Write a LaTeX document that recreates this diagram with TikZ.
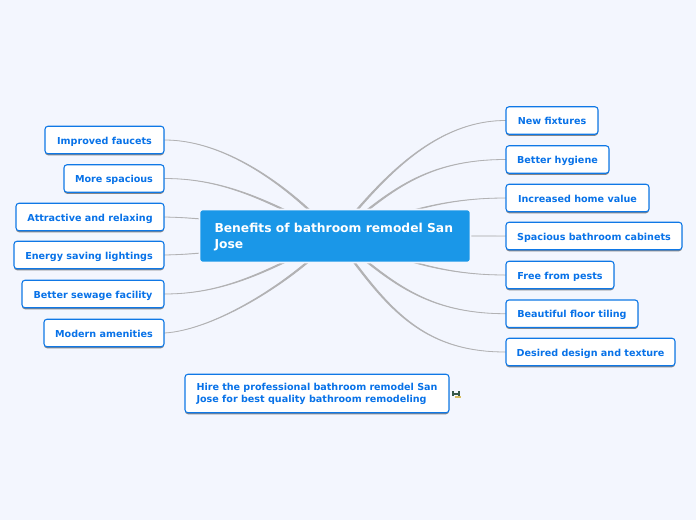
\documentclass[tikz,border=0pt]{standalone}
\usepackage{fontspec}
\setmainfont{DejaVu Sans}
\usetikzlibrary{shadows,backgrounds,calc}
\definecolor{pagebg}{HTML}{F3F6FE}
\definecolor{leafline}{HTML}{0F78E6}
\definecolor{leaftext}{HTML}{0872E8}
\definecolor{mainfill}{HTML}{1A97E8}
\definecolor{connc}{HTML}{B2B2B4}
\definecolor{icondark}{HTML}{35584A}
\definecolor{iconlight}{HTML}{D8BE62}
\tikzset{
  box/.style={draw=leafline,fill=white,line width=1.1pt,rounded corners=3pt,inner sep=0pt,
    text=leaftext,font=\fontsize{9.6}{12.5}\selectfont\bfseries,
    drop shadow={shadow xshift=0pt,shadow yshift=-1.5pt,fill=black!70,opacity=.65}},
  leaf/.style={box,minimum height=27.5pt,text height=10pt,text depth=2pt},
  hub/.style={draw=pagebg,fill=mainfill,line width=1.6pt,rounded corners=3pt,inner sep=0pt,
    text=white,font=\fontsize{12.3}{15.5}\selectfont\bfseries,
    minimum width=271pt,minimum height=53pt},
  conn/.style={draw=connc,fill=connc,line width=.8pt,line join=round}
}
% tapered connector: node anchor, first control, second control, half width at the hub
\newcommand{\taper}[4]{%
  \path[conn] (#1) .. controls +(#2) and +(#3) .. ($(hub.center)+(#4)$)
    -- ($(hub.center)-(#4)$) .. controls +(#3) and +(#2) .. (#1) -- cycle;}
\begin{document}
\begin{tikzpicture}[x=1pt,y=-1pt]
\useasboundingbox (0,0) rectangle (696,520);
% hub
\node[hub] (hub) at (335,236) {\parbox[c][53pt][c]{241pt}{\raggedright\vspace*{2pt}Benefits of bathroom remodel San\\Jose}};
% left
\node[leaf,minimum width=119pt] (l1) at (104.5,140) {Improved faucets};
\node[leaf,minimum width=100pt] (l2) at (114,178.5) {More spacious};
\node[leaf,minimum width=148pt] (l3) at (90,217) {Attractive and relaxing};
\node[leaf,minimum width=150pt] (l4) at (89,255) {Energy saving lightings};
\node[leaf,minimum width=142pt] (l5) at (93,294) {Better sewage facility};
\node[leaf,minimum width=120pt] (l6) at (104,333) {Modern amenities};
% right
\node[leaf,minimum width=92pt] (r1) at (552,120.5) {New fixtures};
\node[leaf,minimum width=103pt] (r2) at (557.5,159.5) {Better hygiene};
\node[leaf,minimum width=143pt] (r3) at (577.5,198) {Increased home value};
\node[leaf,minimum width=176pt] (r4) at (594,236) {Spacious bathroom cabinets};
\node[leaf,minimum width=108pt] (r5) at (560,275) {Free from pests};
\node[leaf,minimum width=132pt] (r6) at (572,313.7) {Beautiful floor tiling};
\node[leaf,minimum width=169pt] (r7) at (590.5,352) {Desired design and texture};
% note
\node[box,minimum width=264pt,minimum height=38.5pt] (note) at (317,393.5)
  {\parbox{241pt}{\raggedright\vspace*{1pt}Hire the professional bathroom remodel San\\Jose for best quality bathroom remodeling}};
% icon
\fill[icondark] (452,390.5) rectangle (453.8,396);
\fill[icondark] (457.7,390.5) rectangle (459.5,396);
\fill[icondark] (452,393) rectangle (459.5,394.8);
\fill[iconlight] (455,395.5) rectangle (461,397.5);
\begin{scope}[on background layer]
\fill[pagebg] (0,0) rectangle (696,520);
\taper{l1.east}{65,0}{-40,-44}{.55,-.55}
\taper{l2.east}{60,0}{-66,-35}{.35,-.7}
\taper{l3.east}{50,1}{-80,-10}{0,.7}
\taper{l4.east}{50,-1}{-80,10}{0,.7}
\taper{l5.east}{60,0}{-66,35}{.35,.7}
\taper{l6.east}{51,-3}{-40,44}{.55,.55}
\taper{r1.west}{-76,0}{40,-48}{.55,.55}
\taper{r2.west}{-86,0}{50,-39}{.4,.7}
\taper{r3.west}{-70,0}{60,-20}{.2,.7}
\taper{r4.west}{-40,0}{40,0}{0,.4}
\taper{r5.west}{-70,0}{60,20}{.2,-.7}
\taper{r6.west}{-86,0}{50,39}{.4,-.7}
\taper{r7.west}{-86,0}{50,69}{.55,-.55}
\end{scope}
\end{tikzpicture}
\end{document}
